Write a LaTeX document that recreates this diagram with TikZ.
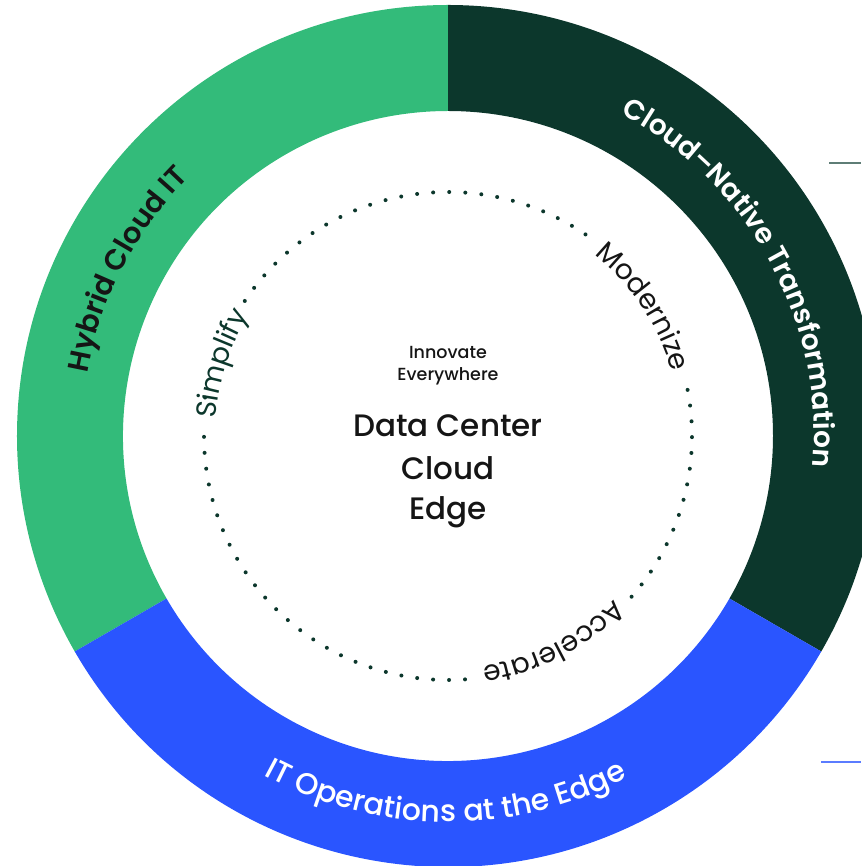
\documentclass[tikz,border=0pt]{standalone}
\usepackage{fontspec}
\setmainfont{Poppins}
\newfontfamily\popmed{Poppins Medium}
\newfontfamily\popsemi{Poppins SemiBold}
\usetikzlibrary{decorations.text}
\definecolor{hgreen}{HTML}{33BB7A}
\definecolor{dgreen}{HTML}{0C372C}
\definecolor{eblue}{HTML}{2A55FF}
\definecolor{ink}{HTML}{151515}
\definecolor{dotink}{HTML}{0C372C}
\definecolor{tickgray}{HTML}{5E7D76}
\definecolor{tickblue}{HTML}{5B7CFF}
\begin{document}
\begin{tikzpicture}[x=1pt,y=1pt,
  dotmark/.style={fill=dotink},
  tickline/.style={line width=2pt}]
\useasboundingbox (-448,-430) rectangle (413,436);
% ring sectors
\fill[hgreen] (90:431) arc[start angle=90,end angle=210,radius=431] -- (210:325) arc[start angle=210,end angle=90,radius=325] -- cycle;
\fill[dgreen] (-30:431) arc[start angle=-30,end angle=90,radius=431] -- (90:325) arc[start angle=90,end angle=-30,radius=325] -- cycle;
\fill[eblue] (210:431) arc[start angle=210,end angle=330,radius=431] -- (330:325) arc[start angle=330,end angle=210,radius=325] -- cycle;
% dotted circle
\foreach \i in {0,...,24} \fill[dotmark] ({55.7+\i*3.779}:244) circle[radius=2];
\foreach \i in {0,...,25} \fill[dotmark] ({180.2+\i*3.752}:244) circle[radius=2];
\foreach \i in {0,...,14} \fill[dotmark] ({-41.2+\i*3.721}:244) circle[radius=2];
\fill[dotmark] (171:246) circle[radius=2];
% ring labels
\path[decorate,decoration={text along path,text align=center,text color=ink,
  text={|\popsemi\fontsize{29}{31}\selectfont|Hybrid Cloud IT}}]
  (192.6:366) arc[start angle=192.6,end angle=112.6,radius=366];
\path[decorate,decoration={text along path,text align=center,text color=white,
  text={|\popsemi\fontsize{28}{30}\selectfont|Cloud–Native Transformation}}]
  (78.5:366) arc[start angle=78.5,end angle=-21.5,radius=366];
\path[decorate,decoration={text along path,text align=center,text color=white,
  text={|\popmed\fontsize{30}{32}\selectfont|IT Operations at the Edge}}]
  (224.6:386) arc[start angle=224.6,end angle=314.6,radius=386];
% inner labels
\path[decorate,decoration={text along path,text align=center,text color=dgreen,
  text={|\fontsize{28}{30}\selectfont|Simplify}}]
  (192.3:233) arc[start angle=192.3,end angle=132.3,radius=233];
\path[decorate,decoration={text along path,text align=center,text color=ink,
  text={|\fontsize{28}{30}\selectfont|Modernize}}]
  (63.5:233) arc[start angle=63.5,end angle=3.5,radius=233];
\path[decorate,decoration={text along path,text align=center,text color=ink,
  text={|\fontsize{28}{30}\selectfont|Accelerate}}]
  (-33:233) arc[start angle=-33,end angle=-93,radius=233];
% centre text
\node[font=\popmed\fontsize{17.5}{19}\selectfont,text=ink,anchor=base,inner sep=0] (inn) at (0,77) {Innovate};
\node[font=\popmed\fontsize{17.5}{19}\selectfont,text=ink,anchor=base,inner sep=0] (evr) at (0,55) {Everywhere};
\node[font=\popmed\fontsize{31}{34}\selectfont,text=ink,anchor=base,inner sep=0] (dc) at (0,-1) {Data Center};
\node[font=\popmed\fontsize{31}{34}\selectfont,text=ink,anchor=base,inner sep=0] (cl) at (0,-44) {Cloud};
\node[font=\popmed\fontsize{31}{34}\selectfont,text=ink,anchor=base,inner sep=0] (ed) at (0,-84) {Edge};
% small tick lines at right edge
\coordinate (ga) at (381,273); \coordinate (gb) at (413,273);
\coordinate (ba) at (373,-326); \coordinate (bb) at (413,-326);
\draw[tickline,tickgray] (ga) -- (gb);
\draw[tickline,tickblue] (ba) -- (bb);
\end{tikzpicture}
\end{document}
